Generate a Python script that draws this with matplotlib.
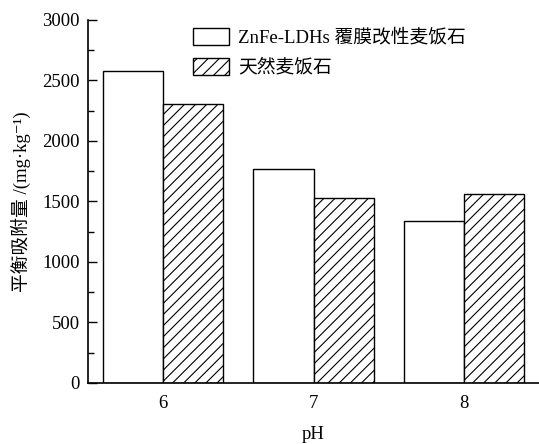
import numpy as np
import matplotlib.pyplot as plt
from matplotlib.ticker import MultipleLocator

plt.rcParams['font.family'] = ['Liberation Serif', 'Noto Sans CJK SC', 'DejaVu Serif']
plt.rcParams['hatch.linewidth'] = 0.8

ph = [6, 7, 8]
modified = [2580, 1770, 1340]
natural = [2305, 1525, 1560]
labels = ['ZnFe-LDHs 覆膜改性麦饭石', '天然麦饭石']

fig = plt.figure(figsize=(5.39, 4.44), dpi=100)
ax = fig.add_axes([0.1633, 0.1374, 0.8367, 0.8176])

x = np.array(ph, dtype=float)
w = 0.4
ax.bar(x - w / 2, modified, w, color='white', edgecolor='black',
       linewidth=1.0, label=labels[0])
ax.bar(x + w / 2, natural, w, color='white', edgecolor='black',
       linewidth=1.0, hatch='///', label=labels[1])

ax.set_xlim(5.5, 8.5)
ax.set_ylim(0, 3000)
ax.set_xticks(ph)
ax.yaxis.set_major_locator(MultipleLocator(500))
ax.yaxis.set_minor_locator(MultipleLocator(250))
ax.tick_params(axis='y', which='major', direction='in', length=6.5, width=1.0,
               labelsize=13.5, pad=6)
ax.tick_params(axis='y', which='minor', direction='in', length=4.5, width=1.0)
ax.tick_params(axis='x', length=0, labelsize=13.5, pad=9)

for side in ['top', 'right']:
    ax.spines[side].set_visible(False)
for side in ['left', 'bottom']:
    ax.spines[side].set_linewidth(1.2)

ax.set_xlabel('pH', fontsize=13.5, labelpad=10)
ax.set_ylabel('平衡吸附量 /(mg·kg⁻¹)', fontsize=13.5, labelpad=8)

ax.legend(loc='upper left', bbox_to_anchor=(0.195, 1.025), frameon=False,
          fontsize=13.5, handlelength=1.95, handleheight=1.0, handletextpad=0.45,
          labelspacing=0.6)

fig.savefig('out.png', dpi=100)
